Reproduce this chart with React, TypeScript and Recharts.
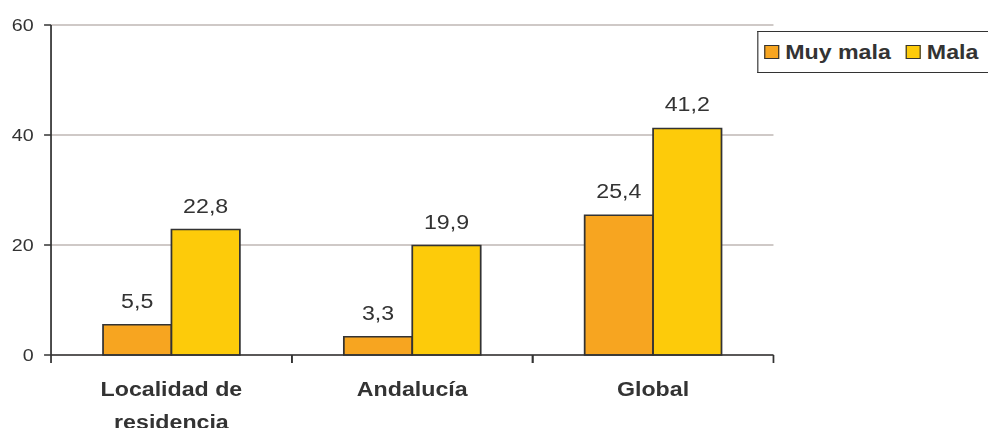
import React from 'react';
import { BarChart, Bar, XAxis, YAxis, CartesianGrid, LabelList, Legend, Text } from 'recharts';

const categories = ['Localidad de residencia', 'Andalucía', 'Global'];
const muyMala = [5.5, 3.3, 25.4];
const mala = [22.8, 19.9, 41.2];
const yTicks = [0, 20, 40, 60];
const seriesKeys = ['muyMala', 'mala'];
const seriesNames = ['Muy mala', 'Mala'];
const seriesColors = ['#F7A520', '#FDCB0A'];

const data = categories.map((c, i) => ({ name: c, muyMala: muyMala[i], mala: mala[i] }));

const FONT = '"Liberation Sans", Arial, Helvetica, sans-serif';
const INK = '#333333';
const SX = 988 / 852;

const fmt = (v: any) => Number(v).toFixed(1).replace('.', ',');

const CatTick = (props: any) => {
  const { x, y, payload } = props;
  const half = payload && typeof payload.offset === 'number' ? payload.offset : 0;
  return (
    <g>
      <line x1={x - half} x2={x - half} y1={y} y2={y + 8} stroke={INK} strokeWidth={1.5} />
      <line x1={x + half} x2={x + half} y1={y} y2={y + 8} stroke={INK} strokeWidth={1.5} />
      <Text
        x={x}
        y={y + 27}
        width={150}
        textAnchor="middle"
        verticalAnchor="start"
        lineHeight={33}
        fill={INK}
        fontSize={20}
        fontWeight="bold"
        fontFamily={FONT}
      >
        {payload.value}
      </Text>
    </g>
  );
};

const LegendBox = () => (
  <div
    style={{
      display: 'flex',
      alignItems: 'center',
      height: 42,
      boxSizing: 'border-box',
      border: `1.5px solid ${INK}`,
      borderRight: 'none',
      paddingLeft: 5.5,
      width: 220,
      fontFamily: FONT,
      fontWeight: 'bold',
      fontSize: 20,
      color: INK,
      background: '#fff',
    }}
  >
    {seriesNames.map((n, i) => (
      <span key={n} style={{ display: 'flex', alignItems: 'center', marginRight: 13 }}>
        <span
          style={{
            display: 'inline-block',
            width: 13,
            height: 14,
            background: seriesColors[i],
            border: `1.5px solid ${INK}`,
            boxSizing: 'border-box',
            marginRight: 5,
          }}
        />
        {n}
      </span>
    ))}
  </div>
);

export default function App() {
  return (
    <div style={{ position: 'absolute', left: 0, top: 0, width: 988, height: 428, overflow: 'hidden', background: '#fff' }}>
      <div style={{ width: 852, height: 428, transform: `scaleX(${SX})`, transformOrigin: '0 0' }}>
        <BarChart
          width={852}
          height={428}
          data={data}
          margin={{ top: 25, right: 185, bottom: 0, left: 0 }}
          barCategoryGap="21.6%"
          barGap={0}
        >
          <CartesianGrid vertical={false} stroke="#BFB7B4" strokeWidth={1.5} />
          <XAxis
            dataKey="name"
            height={73}
            interval={0}
            tickSize={0}
            tickMargin={0}
            tickLine={false}
            axisLine={{ stroke: INK, strokeWidth: 1.5 }}
            tick={<CatTick />}
          />
          <YAxis
            domain={[0, 60]}
            ticks={yTicks}
            width={44}
            tickSize={6}
            tickMargin={9}
            axisLine={{ stroke: INK, strokeWidth: 1.5 }}
            tickLine={{ stroke: INK, strokeWidth: 1.5 }}
            tick={{ fill: INK, fontSize: 17, fontFamily: FONT }}
          />
          <Legend
            verticalAlign="middle"
            layout="horizontal"
            content={<LegendBox />}
            wrapperStyle={{ left: 652.6, top: 31, width: 220 }}
          />
          {seriesKeys.map((k, i) => (
            <Bar
              key={k}
              dataKey={k}
              name={seriesNames[i]}
              fill={seriesColors[i]}
              stroke={INK}
              strokeWidth={1.5}
              isAnimationActive={false}
            >
              <LabelList
                dataKey={k}
                position="top"
                offset={17}
                formatter={fmt}
                fill={INK}
                fontSize={20}
                fontFamily={FONT}
              />
            </Bar>
          ))}
        </BarChart>
      </div>
    </div>
  );
}
